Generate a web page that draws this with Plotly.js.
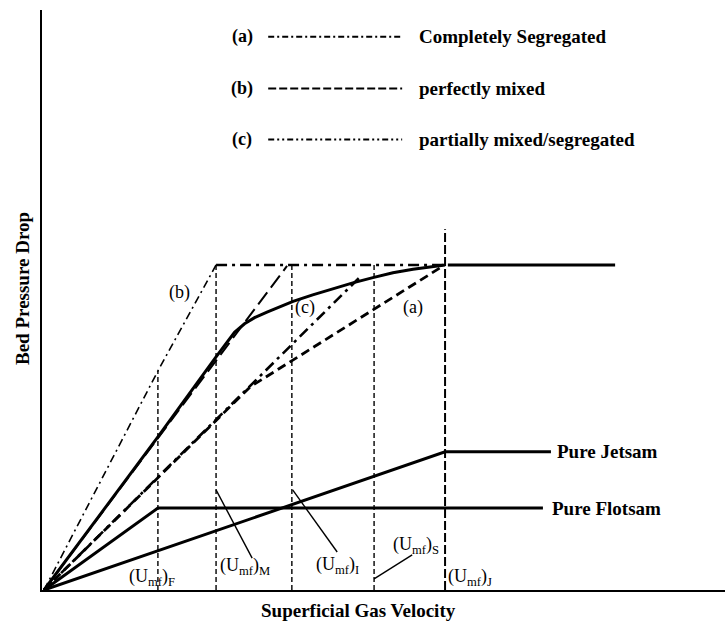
<!DOCTYPE html>
<html>
<head>
<meta charset="utf-8">
<script src="https://cdn.plot.ly/plotly-3.0.1.min.js"></script>
<style>html,body{margin:0;padding:0;background:#fff;}#chart{width:725px;height:626px;}</style>
</head>
<body>
<div id="chart"></div>
<script>
// ---- data (arbitrary schematic units) ----
const umfNames = ['F', 'M', 'I', 'S', 'J'];
const umfX = [2.84, 4.29, 6.18, 8.23, 10.0];
const umfTop = [6.74, 10.0, 10.0, 10.0, 11.1];

const plateauY = 10.0;
const plateauEndX = 14.24;

// pure jetsam / flotsam
const jetsamX = [0, 10.0, 12.64];
const jetsamY = [0, 4.25, 4.25];
const flotsamX = [0, 2.84, 12.44];
const flotsamY = [0, 2.52, 2.52];

// actual mixture curve (solid)
const mixX = [0, 2.84, 4.29, 4.75, 5.0, 5.25, 5.56, 5.9, 6.21, 6.7, 7.21, 7.7, 8.2, 8.7, 9.2, 9.6, 10.0];
const mixY = [0, 4.71, 7.17, 7.93, 8.19, 8.38, 8.55, 8.72, 8.88, 9.08, 9.27, 9.45, 9.61, 9.76, 9.87, 9.94, 10.0];

// steep thin dash-dot line "(b)"
const steepX = [0, 2.84, 4.29];
const steepY = [0, 6.74, 10.0];

// upper plateau dash-dot (from Umf,M to Umf,J)
const plateauDashX = [4.29, 10.0];
const plateauDashY = [10.0, 10.0];

// long-dashed straight line
const longDashX = [0, 6.06];
const longDashY = [0, 9.97];

// thick dash-dot line
const dashDotX = [0, 7.88];
const dashDotY = [0, 9.63];

// thick dashed line "(a)"
const dashedX = [0, 5.14, 9.95];
const dashedY = [0, 6.25, 9.97];

// pointer lines for labels
const ptrM = {x: [4.29, 5.19], y: [3.08, 0.98]};
const ptrI = {x: [6.20, 7.31], y: [3.08, 1.17]};
const ptrS = {x: [9.18, 8.23], y: [1.08, 0.34]};

// legend entries
const legendKeys = ['(a)', '(b)', '(c)'];
const legendTexts = ['Completely Segregated', 'perfectly mixed', 'partially mixed/segregated'];
const legendY = [17.02, 15.43, 13.86];
const legendLineX = [5.59, 8.93];
const legendKeyX = 4.94;
const legendTextX = 9.30;

// label positions
const umfLabelX = [2.69, 5.01, 7.33, 9.28, 10.62];
const umfLabelY = [0.40, 0.71, 0.74, 1.38, 0.37];
const curveLabels = ['(b)', '(c)', '(a)'];
const curveLabelX = [3.39, 6.51, 9.20];
const curveLabelY = [9.14, 8.68, 8.68];

// axis titles
const xTitle = 'Superficial Gas Velocity';
const yTitle = 'Bed Pressure Drop';

// ---- traces ----
const serif = 'Liberation Serif, Times New Roman, serif';
const K = '#000';
const traces = [];
function line(x, y, width, dash) {
  traces.push({x: x, y: y, mode: 'lines', type: 'scatter', hoverinfo: 'skip', showlegend: false,
    line: {color: K, width: width, dash: dash || 'solid'}});
}

// vertical dashed lines
umfX.forEach((xv, i) => {
  const isJ = umfNames[i] === 'J';
  line([xv, xv], [0, umfTop[i]], isJ ? 2 : 1.4, isJ ? '9px,3px' : '5px,3px');
});

line(jetsamX, jetsamY, 3);
line(flotsamX, flotsamY, 3);
line([umfX[4] + 0.07, plateauEndX], [plateauY, plateauY], 3);
line(steepX, steepY, 1.6, '8px,4px,2px,4px');
line(plateauDashX, plateauDashY, 2.6, '11px,5px,3px,5px');
line(longDashX, longDashY, 2, '15px,6px');
line(dashDotX, dashDotY, 2.6, '11px,5px,3px,5px');
line(dashedX, dashedY, 2.8, '9px,5px');
line(mixX, mixY, 3);
[ptrM, ptrI, ptrS].forEach(p => line(p.x, p.y, 1.4));

// legend samples
const legendDash = ['6px,3px,2px,3px', '8px,3px', '6px,3px,2px,3px,2px,3px'];
legendY.forEach((yv, i) => line(legendLineX, [yv, yv], 2, legendDash[i]));

// ---- annotations ----
const annotations = [];
function txt(x, y, text, size, anchor) {
  annotations.push({x: x, y: y, xref: 'x', yref: 'y', text: text, showarrow: false,
    xanchor: anchor || 'center', yanchor: 'middle', font: {family: serif, size: size, color: K}});
}
legendKeys.forEach((k, i) => {
  txt(legendKeyX, legendY[i], '<b>' + k + '</b>', 18);
  txt(legendTextX, legendY[i], '<b>' + legendTexts[i] + '</b>', 19, 'left');
});
umfNames.forEach((n, i) => txt(umfLabelX[i], umfLabelY[i], '(U<sub>mf</sub>)<sub>' + n + '</sub>', 18));
curveLabels.forEach((c, i) => txt(curveLabelX[i], curveLabelY[i], c, 18));
txt(jetsamX[2] + 0.1, jetsamY[2], '<b>Pure Jetsam</b>', 19, 'left');
txt(flotsamX[2] + 0.18, flotsamY[2], '<b>Pure Flotsam</b>', 19, 'left');
// axis titles placed at their reference positions (paper coordinates)
annotations.push({xref: 'paper', yref: 'paper', x: 0.4627, y: -0.0345, text: '<b>' + xTitle + '</b>',
  showarrow: false, xanchor: 'center', yanchor: 'middle', font: {family: serif, size: 19, color: K}});
annotations.push({xref: 'paper', yref: 'paper', x: -0.0278, y: 0.519, text: '<b>' + yTitle + '</b>',
  showarrow: false, textangle: -90, xanchor: 'center', yanchor: 'middle', font: {family: serif, size: 19, color: K}});

const layout = {
  width: 725, height: 626,
  margin: {l: 42, r: 0, t: 10, b: 36},
  paper_bgcolor: '#fff', plot_bgcolor: '#fff',
  showlegend: false,
  xaxis: {range: [-0.05, 16.98], showgrid: false, zeroline: false, showticklabels: false, ticks: '',
    showline: true, linecolor: K, linewidth: 2, fixedrange: true},
  yaxis: {range: [0, 17.846], showgrid: false, zeroline: false, showticklabels: false, ticks: '',
    showline: true, linecolor: K, linewidth: 2, fixedrange: true},
  annotations: annotations
};

Plotly.newPlot('chart', traces, layout, {staticPlot: true, displayModeBar: false});
</script>
</body>
</html>
